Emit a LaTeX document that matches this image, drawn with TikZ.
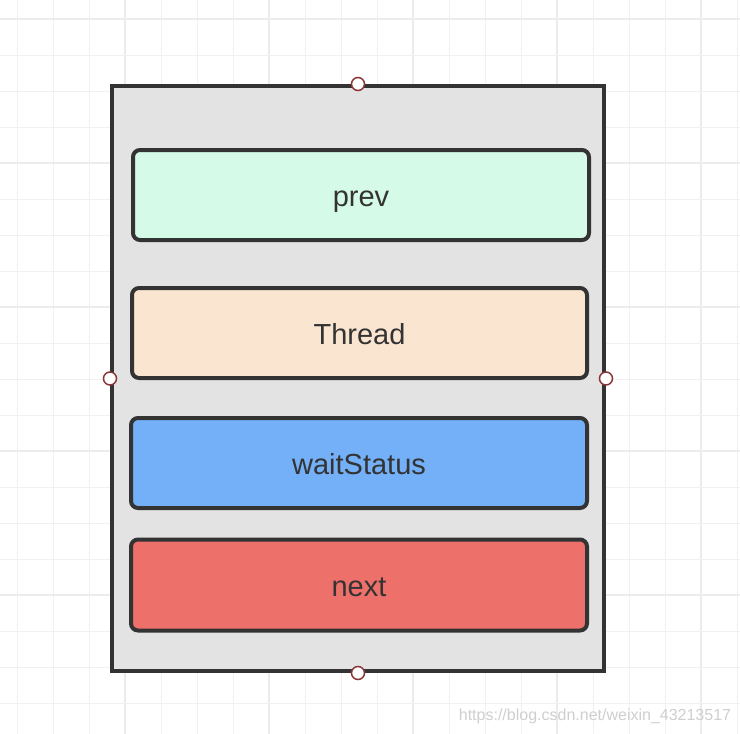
\documentclass[tikz,border=0pt]{standalone}
\usepackage{fontspec}
\setmainfont{Liberation Sans}
\usepackage{xcolor}

\definecolor{gridminor}{HTML}{F1F1F1}
\definecolor{gridmajor}{HTML}{ECECEC}
\definecolor{edgegray}{HTML}{333333}
\definecolor{framefill}{HTML}{E3E3E3}
\definecolor{prevfill}{HTML}{D5FAE7}
\definecolor{threadfill}{HTML}{FAE6D0}
\definecolor{waitfill}{HTML}{74B0F7}
\definecolor{nextfill}{HTML}{EE706A}
\definecolor{handlered}{HTML}{8A3535}
\definecolor{markgray}{HTML}{CFCFCF}

\tikzset{
  field/.style={draw=edgegray, line width=4pt, rounded corners=7pt,
    minimum width=456pt, minimum height=90pt, inner sep=0pt,
    text height=22pt, text depth=0pt,
    text=edgegray, font=\fontsize{29}{29}\selectfont},
  handle/.style={circle, draw=handlered, fill=white, line width=1.5pt,
    minimum size=13pt, inner sep=0pt}
}

\begin{document}
\begin{tikzpicture}[x=1pt, y=-1pt]
    \useasboundingbox (0, 0) rectangle (740, 734);
    \fill[white] (0, 0) rectangle (740, 734);

    % grid
    \foreach \i in {0,...,20} {
        \pgfmathtruncatemacro{\major}{mod(\i,4)==3}
        \ifnum\major=1
            \draw[gridmajor, line width=1.3pt] (17+36*\i, 0) -- (17+36*\i, 734);
        \else
            \draw[gridminor, line width=1pt] (17+36*\i, 0) -- (17+36*\i, 734);
        \fi
    }
    \foreach \j in {0,...,20} {
        \pgfmathtruncatemacro{\major}{mod(\j,4)==0}
        \ifnum\major=1
            \draw[gridmajor, line width=1.3pt] (0, 19+36*\j) -- (740, 19+36*\j);
        \else
            \draw[gridminor, line width=1pt] (0, 19+36*\j) -- (740, 19+36*\j);
        \fi
    }

    % outer frame
    \node[draw=edgegray, fill=framefill, line width=4pt, inner sep=0pt,
          minimum width=492pt, minimum height=585pt] (frame) at (358, 378.5) {};

    \node[field, fill=prevfill] (prev) at (361, 195) {prev};
    \node[field, fill=threadfill, minimum width=455pt] (thread) at (359.5, 333) {Thread};
    \node[field, fill=waitfill] (wait) at (359, 463) {waitStatus};
    \node[field, fill=nextfill, minimum height=91pt] (next) at (359, 585) {next};

    % handles on the frame
    \node[handle] (hn) at (frame.north) {};
    \node[handle] (hs) at (frame.south) {};
    \node[handle] (hw) at (frame.west) {};
    \node[handle] (he) at (frame.east) {};

    \node[text=markgray, font=\fontsize{16}{16}\selectfont] (mark) at (595, 716) {https://blog.csdn.net/weixin\_43213517};
\end{tikzpicture}
\end{document}
